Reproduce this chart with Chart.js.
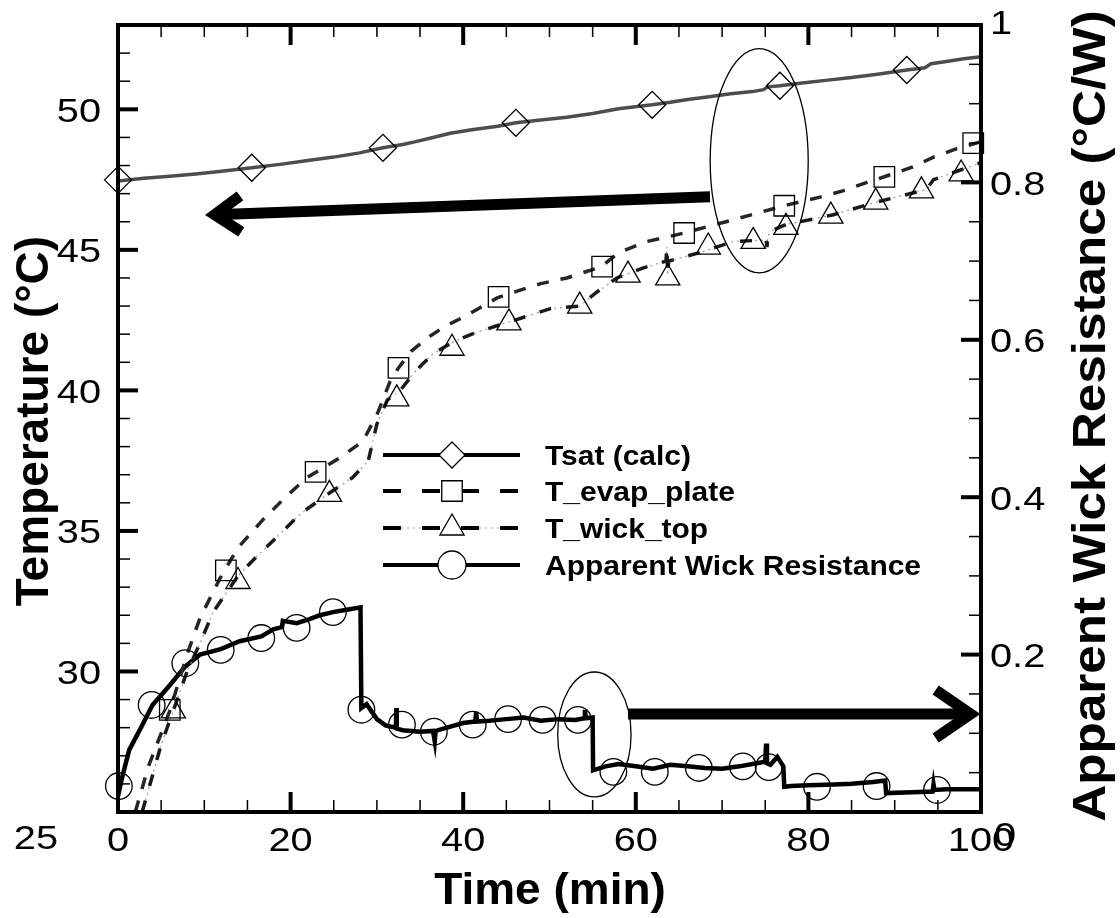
<!DOCTYPE html>
<html>
<head>
<meta charset="utf-8">
<script src="https://cdn.jsdelivr.net/npm/chart.js@4.4.1/dist/chart.umd.min.js"></script>
<style>
  html, body { margin: 0; padding: 0; background: #fff; }
  #wrap { width: 1120px; height: 918px; }
</style>
</head>
<body>
<div id="wrap"><canvas id="grafico" width="1120" height="918"></canvas></div>
<script>
// Ejes
const timeTicks = [0, 20, 40, 60, 80, 100];
const tempTicks = [25, 30, 35, 40, 45, 50];
const resTicks = [0, 0.2, 0.4, 0.6, 0.8, 1];
const timeMinor = 5, tempMinor = 1, resMinor = 0.05;

const legendNames = ['Tsat (calc)', 'T_evap_plate', 'T_wick_top', 'Apparent Wick Resistance'];

// Tsat (calc)
const tsatX = [0, 3, 6, 9, 12, 15.5, 19, 22, 25, 28, 30.7, 33, 34.5, 36.5, 38.5, 41, 44, 46.1, 49, 52, 55, 58, 61.9, 64, 66, 68.5, 71, 73.5, 74.8, 75.3, 76.7, 79, 82, 85, 88, 91.4, 93.5, 94.2, 96, 98, 100];
const tsatY = [47.45, 47.55, 47.62, 47.7, 47.8, 47.92, 48.05, 48.18, 48.3, 48.45, 48.63, 48.75, 48.85, 49.0, 49.15, 49.27, 49.4, 49.52, 49.62, 49.72, 49.85, 50.02, 50.16, 50.25, 50.35, 50.45, 50.55, 50.63, 50.7, 50.8, 50.84, 50.93, 51.03, 51.13, 51.25, 51.4, 51.48, 51.62, 51.7, 51.8, 51.87];
const tsatMarkX = [0, 15.5, 30.7, 46.1, 61.9, 76.7, 91.4];
const tsatMarkY = [47.49, 47.92, 48.63, 49.52, 50.16, 50.84, 51.4];

// T_evap_plate
const evapX = [2, 3.5, 5, 6, 7, 8, 9.5, 11.8, 13.9, 16.8, 19.4, 21.9, 25.7, 28.4, 30.1, 31.5, 32.5, 34, 36, 38, 40, 42, 44, 46.6, 49, 52, 56, 58, 61.3, 63.5, 65.6, 68, 71.3, 74, 77.2, 81, 84, 86.8, 88.8, 92.1, 94.5, 97.2, 100];
const evapY = [25, 26.6, 27.8, 28.6, 29.6, 30.6, 31.9, 33.3, 34.4, 35.4, 36.2, 36.9, 37.6, 38.2, 39.2, 40.3, 40.8, 41.4, 41.9, 42.3, 42.6, 42.95, 43.3, 43.57, 43.8, 44.0, 44.4, 44.9, 45.3, 45.45, 45.6, 45.8, 46.07, 46.3, 46.57, 46.85, 47.1, 47.4, 47.6, 47.95, 48.3, 48.6, 48.85];
const evapMarkX = [6, 12.5, 22.9, 32.5, 44.1, 56.1, 65.6, 77.2, 88.8, 99.1];
const evapMarkY = [28.63, 33.6, 37.1, 40.8, 43.33, 44.4, 45.6, 46.57, 47.6, 48.8];

// T_wick_top
const wickX = [2.8, 4, 5, 6.4, 8, 9.5, 11, 13.9, 16.1, 18.8, 21.1, 24.5, 27.2, 29, 30, 31.2, 32.7, 34.5, 36.5, 38.7, 41, 43.9, 46, 50, 53.5, 55.5, 57.8, 60.8, 63.5, 63.6, 63.7, 63.8, 67.4, 71.3, 75.1, 75.2, 75.3, 75.9, 77.4, 79, 82.9, 87.9, 93.1, 93.7, 94.5, 97.7, 100];
const wickY = [25, 26.3, 27.4, 28.6, 30.0, 31.0, 32.1, 33.4, 34.1, 34.9, 35.6, 36.35, 36.9, 37.5, 38.8, 39.65, 40.0, 40.7, 41.3, 41.7, 42.0, 42.3, 42.5, 42.9, 43.0, 43.5, 44.0, 44.35, 44.6, 45.1, 44.1, 44.6, 44.9, 45.3, 45.35, 45.1, 45.5, 45.7, 45.9, 46.0, 46.25, 46.7, 47.1, 47.15, 47.5, 47.85, 48.1];
const wickMarkX = [6.4, 13.9, 24.5, 32.3, 38.7, 45.3, 53.5, 59.1, 63.7, 68.4, 73.6, 77.4, 82.6, 87.8, 93.1, 97.7];
const wickMarkY = [28.6, 33.2, 36.3, 39.7, 41.5, 42.4, 43.0, 44.1, 44.0, 45.1, 45.3, 45.8, 46.2, 46.7, 47.1, 47.7];

// Apparent Wick Resistance (eje derecho)
const resX = [0, 0.5, 1.3, 2.7, 4, 6, 7.8, 9.5, 11.9, 14.1, 16.6, 18, 19, 19.1, 20.7, 22.2, 23.4, 24.9, 26.5, 28.1,
  28.2, 28.8, 30, 31, 32.2, 32.25, 32.3, 33, 35, 36.5, 36.7, 36.8, 38, 40, 41.4, 41.5, 41.6, 43, 45, 47, 49, 51, 53, 54, 54.1, 54.2, 55,
  55.05, 56.5, 58, 60, 62, 64, 66, 68, 70, 72, 74, 75, 75.1, 75.2, 75.6, 76.4, 77.1,
  77.2, 78, 80, 83, 85, 87.5, 88.9, 89, 92, 94.4, 94.5, 94.6, 96, 100];
const resY = [0.02, 0.045, 0.079, 0.108, 0.136, 0.161, 0.185, 0.2, 0.207, 0.217, 0.223, 0.232, 0.235, 0.243, 0.24, 0.245, 0.25, 0.254, 0.257, 0.26,
  0.132, 0.137, 0.118, 0.11, 0.107, 0.132, 0.106, 0.104, 0.102, 0.103, 0.09, 0.103, 0.107, 0.113, 0.115, 0.127, 0.115, 0.116, 0.118, 0.12, 0.116, 0.118, 0.117, 0.119, 0.13, 0.119, 0.12,
  0.053, 0.058, 0.061, 0.058, 0.055, 0.06, 0.058, 0.056, 0.055, 0.058, 0.062, 0.064, 0.087, 0.062, 0.06, 0.07, 0.058,
  0.032, 0.033, 0.034, 0.035, 0.036, 0.038, 0.04, 0.024, 0.025, 0.026, 0.035, 0.028, 0.029, 0.029];
const resMarkX = [0.1, 3.9, 7.8, 11.9, 16.6, 20.7, 24.9, 28.2, 32.9, 36.6, 41.1, 45.2, 49.2, 53.3, 57.4, 62.2, 67.3, 72.4, 75.4, 81, 87.9, 94.9];
const resMarkY = [0.033, 0.136, 0.189, 0.206, 0.221, 0.234, 0.254, 0.130, 0.111, 0.102, 0.111, 0.118, 0.117, 0.117, 0.051, 0.051, 0.056, 0.058, 0.057, 0.032, 0.033, 0.028];

// Anotaciones (en unidades de datos)
const ellipses = [
  { axis: 'y', cx: 74.3, cy: 48.17, rx: 5.68, ry: 3.99 },
  { axis: 'y1', cx: 55.2, cy: 0.0985, rx: 4.25, ry: 0.0794 }
];
const arrows = [
  { axis: 'y', x0: 68.6, y0: 46.89, x1: 11.2, y1: 46.25, head: [26, 18] },
  { axis: 'y1', x0: 59.1, y0: 0.1245, x1: 98.8, y1: 0.1245, head: [35, 24] }
];

const FONT = '"Liberation Sans", Arial, Helvetica, sans-serif';

function pts(xs, ys) {
  return xs.map((x, i) => ({ x: x, y: ys[i] }));
}

function markers(xs, ys, style, r, axis) {
  return {
    data: pts(xs, ys), yAxisID: axis, showLine: false, clip: false,
    pointStyle: style, pointRadius: r, pointBorderWidth: 1.3,
    pointBorderColor: '#000', pointBackgroundColor: 'rgba(0,0,0,0)'
  };
}

function texto(ctx, str, x, y, opt) {
  ctx.save();
  ctx.translate(x, y);
  if (opt.angle) ctx.rotate(opt.angle);
  ctx.scale(opt.sx || 1, 1);
  ctx.font = opt.font;
  ctx.fillStyle = '#000';
  ctx.textAlign = opt.align || 'left';
  ctx.textBaseline = 'alphabetic';
  ctx.fillText(str, 0, 0);
  ctx.restore();
}

function valores(min, max, step) {
  const out = [];
  const n = Math.round((max - min) / step);
  for (let i = 0; i <= n; i++) out.push(min + i * step);
  return out;
}

function esMayor(v, majors) {
  return majors.some(m => Math.abs(m - v) < 1e-6);
}

function dibujarMarco(ctx, chart) {
  const a = chart.chartArea;
  const xs = chart.scales.x, yl = chart.scales.y, yr = chart.scales.y1;
  ctx.save();
  ctx.strokeStyle = '#000';
  ctx.lineCap = 'butt';
  valores(xs.min, xs.max, timeMinor).forEach(v => {
    const big = esMayor(v, timeTicks);
    const p = xs.getPixelForValue(v);
    const len = big ? 20 : 12;
    ctx.lineWidth = big ? 4 : 1.5;
    ctx.beginPath();
    ctx.moveTo(p, a.bottom); ctx.lineTo(p, a.bottom - len);
    ctx.moveTo(p, a.top); ctx.lineTo(p, a.top + len);
    ctx.stroke();
  });
  valores(yl.min, yl.max, tempMinor).forEach(v => {
    const big = esMayor(v, tempTicks);
    const p = yl.getPixelForValue(v);
    ctx.lineWidth = big ? 4 : 1.5;
    ctx.beginPath();
    ctx.moveTo(a.left, p); ctx.lineTo(a.left + (big ? 20 : 12), p);
    ctx.stroke();
  });
  valores(yr.min, yr.max, resMinor).forEach(v => {
    const big = esMayor(v, resTicks);
    const p = yr.getPixelForValue(v);
    ctx.lineWidth = big ? 4 : 1.5;
    ctx.beginPath();
    ctx.moveTo(a.right, p); ctx.lineTo(a.right - (big ? 20 : 12), p);
    ctx.stroke();
  });
  ctx.lineWidth = 4;
  ctx.strokeRect(a.left, a.top, a.right - a.left, a.bottom - a.top);
  ctx.restore();
}

function dibujarEtiquetas(ctx, chart) {
  const xs = chart.scales.x, yl = chart.scales.y, yr = chart.scales.y1;
  const f = '34px ' + FONT;
  xs.ticks.forEach(t => {
    texto(ctx, String(t.value), xs.getPixelForValue(t.value), 851, { font: f, sx: 1.17, align: 'center' });
  });
  yl.ticks.forEach(t => {
    if (t.value === yl.min) {
      texto(ctx, String(t.value), 58, 849, { font: f, sx: 1.17, align: 'right' });
    } else {
      texto(ctx, String(t.value), 101, yl.getPixelForValue(t.value) + 12.5, { font: f, sx: 1.17, align: 'right' });
    }
  });
  yr.ticks.forEach(t => {
    let y = yr.getPixelForValue(t.value) + 12.5;
    if (t.value === yr.min) y = 846;
    if (t.value === yr.max) y -= 4;
    texto(ctx, String(t.value), t.value === yr.min ? 994 : 990, y, { font: f, sx: 1.17, align: 'left' });
  });
}

function dibujarTitulos(ctx) {
  texto(ctx, 'Time (min)', 550, 904, { font: 'bold 44px ' + FONT, sx: 1.045, align: 'center' });
  texto(ctx, 'Temperature (°C)', 48, 421, { font: 'bold 46px ' + FONT, sx: 1.0, align: 'center', angle: -Math.PI / 2 });
  texto(ctx, 'Apparent Wick Resistance (°C/W)', 1105, 416, { font: 'bold 47px ' + FONT, sx: 1.09, align: 'center', angle: -Math.PI / 2 });
}

function dibujarAnotaciones(ctx, chart) {
  const xs = chart.scales.x;
  ctx.save();
  ctx.strokeStyle = '#000';
  ellipses.forEach(e => {
    const ys = chart.scales[e.axis];
    const cx = xs.getPixelForValue(e.cx), cy = ys.getPixelForValue(e.cy);
    const rx = Math.abs(xs.getPixelForValue(e.cx + e.rx) - cx);
    const ry = Math.abs(ys.getPixelForValue(e.cy + e.ry) - cy);
    ctx.lineWidth = 1.3;
    ctx.beginPath();
    ctx.ellipse(cx, cy, rx, ry, 0, 0, Math.PI * 2);
    ctx.stroke();
  });
  arrows.forEach(a => {
    const ys = chart.scales[a.axis];
    const x0 = xs.getPixelForValue(a.x0), y0 = ys.getPixelForValue(a.y0);
    const x1 = xs.getPixelForValue(a.x1), y1 = ys.getPixelForValue(a.y1);
    const ang = Math.atan2(y1 - y0, x1 - x0);
    const back = a.head[0], side = a.head[1];
    ctx.lineWidth = 11;
    ctx.lineCap = 'butt';
    ctx.lineJoin = 'miter';
    ctx.beginPath();
    ctx.moveTo(x0, y0); ctx.lineTo(x1, y1);
    ctx.stroke();
    const bx = x1 - back * Math.cos(ang), by = y1 - back * Math.sin(ang);
    const nx = -Math.sin(ang) * side, ny = Math.cos(ang) * side;
    ctx.beginPath();
    ctx.moveTo(bx + nx, by + ny); ctx.lineTo(x1, y1); ctx.lineTo(bx - nx, by - ny);
    ctx.stroke();
  });
  ctx.restore();
}

function simbolo(ctx, kind, x, y, r) {
  ctx.beginPath();
  if (kind === 'rectRot') {
    ctx.moveTo(x, y - r); ctx.lineTo(x + r, y); ctx.lineTo(x, y + r); ctx.lineTo(x - r, y); ctx.closePath();
  } else if (kind === 'rect') {
    const h = r * Math.SQRT1_2;
    ctx.rect(x - h, y - h, 2 * h, 2 * h);
  } else if (kind === 'triangle') {
    const s = Math.sin(2 * Math.PI / 3) * r, c = Math.cos(2 * Math.PI / 3) * r;
    ctx.moveTo(x, y - r); ctx.lineTo(x + s, y - c); ctx.lineTo(x - s, y - c); ctx.closePath();
  } else {
    ctx.arc(x, y, r, 0, Math.PI * 2);
  }
  ctx.fillStyle = '#fff';
  ctx.fill();
  ctx.lineWidth = 1.3;
  ctx.strokeStyle = '#000';
  ctx.stroke();
}

function dibujarLeyenda(ctx) {
  const filas = [455, 491, 528, 565];
  const x0 = 383, x1 = 520, xm = 452;
  const estilos = [
    { dash: [], kind: 'rectRot', r: 13 },
    { dash: [18, 21], kind: 'rect', r: 14.5 },
    { dash: [18, 21], kind: 'triangle', r: 14, dots: true },
    { dash: [], kind: 'circle', r: 14 }
  ];
  ctx.save();
  legendNames.forEach((name, i) => {
    const y = filas[i], st = estilos[i];
    if (st.dots) {
      ctx.strokeStyle = '#999';
      ctx.lineWidth = 1.2;
      ctx.setLineDash([2, 4]);
      ctx.beginPath(); ctx.moveTo(x0, y); ctx.lineTo(x1, y); ctx.stroke();
    }
    ctx.strokeStyle = '#000';
    ctx.lineWidth = 4;
    ctx.setLineDash(st.dash);
    ctx.beginPath(); ctx.moveTo(x0, y); ctx.lineTo(x1, y); ctx.stroke();
    ctx.setLineDash([]);
    simbolo(ctx, st.kind, xm, y, st.r);
    texto(ctx, name, 545, y + 10, { font: 'bold 28px ' + FONT, sx: 1.07, align: 'left' });
  });
  ctx.restore();
}

const decor = {
  id: 'decor',
  afterDraw(chart) {
    const ctx = chart.ctx;
    dibujarAnotaciones(ctx, chart);
    dibujarMarco(ctx, chart);
    dibujarEtiquetas(ctx, chart);
    dibujarTitulos(ctx);
    dibujarLeyenda(ctx);
  }
};

function ejeOculto(extra) {
  return Object.assign({
    type: 'linear',
    grid: { display: false, drawTicks: false },
    border: { display: false },
    ticks: { display: false }
  }, extra);
}

new Chart(document.getElementById('grafico'), {
  type: 'line',
  data: {
    datasets: [
      markers(tsatMarkX, tsatMarkY, 'rectRot', 13.5, 'y'),
      markers(evapMarkX, evapMarkY, 'rect', 14.5, 'y'),
      markers(wickMarkX, wickMarkY, 'triangle', 14, 'y'),
      markers(resMarkX, resMarkY, 'circle', 13.3, 'y1'),
      { label: legendNames[0], data: pts(tsatX, tsatY), yAxisID: 'y', borderColor: '#4d4d4d', borderWidth: 3.5, pointRadius: 0 },
      { label: legendNames[1], data: pts(evapX, evapY), yAxisID: 'y', borderColor: '#262626', borderWidth: 3.5, borderDash: [12, 12], pointRadius: 0 },
      { label: legendNames[2], data: pts(wickX, wickY), yAxisID: 'y', borderColor: '#1a1a1a', borderWidth: 3.5, borderDash: [12, 15], pointRadius: 0 },
      { label: legendNames[2] + ' dots', data: pts(wickX, wickY), yAxisID: 'y', borderColor: '#9a9a9a', borderWidth: 1.2, borderDash: [2, 4], pointRadius: 0 },
      { label: legendNames[3], data: pts(resX, resY), yAxisID: 'y1', borderColor: '#000', borderWidth: 4.5, pointRadius: 0 }
    ]
  },
  options: {
    responsive: false,
    animation: false,
    layout: { padding: { top: 25, left: 0, right: 0, bottom: 0 } },
    plugins: { legend: { display: false }, tooltip: { enabled: false } },
    elements: { line: { tension: 0, fill: false } },
    scales: {
      x: ejeOculto({
        min: 0, max: 100, position: 'bottom',
        afterBuildTicks: s => { s.ticks = timeTicks.map(v => ({ value: v })); },
        afterFit: s => { s.height = 106; }
      }),
      y: ejeOculto({
        min: 25, max: 53, position: 'left',
        afterBuildTicks: s => { s.ticks = tempTicks.map(v => ({ value: v })); },
        afterFit: s => { s.width = 118; }
      }),
      y1: ejeOculto({
        min: 0, max: 1, position: 'right',
        afterBuildTicks: s => { s.ticks = resTicks.map(v => ({ value: v })); },
        afterFit: s => { s.width = 139; }
      })
    }
  },
  plugins: [decor]
});
</script>
</body>
</html>
